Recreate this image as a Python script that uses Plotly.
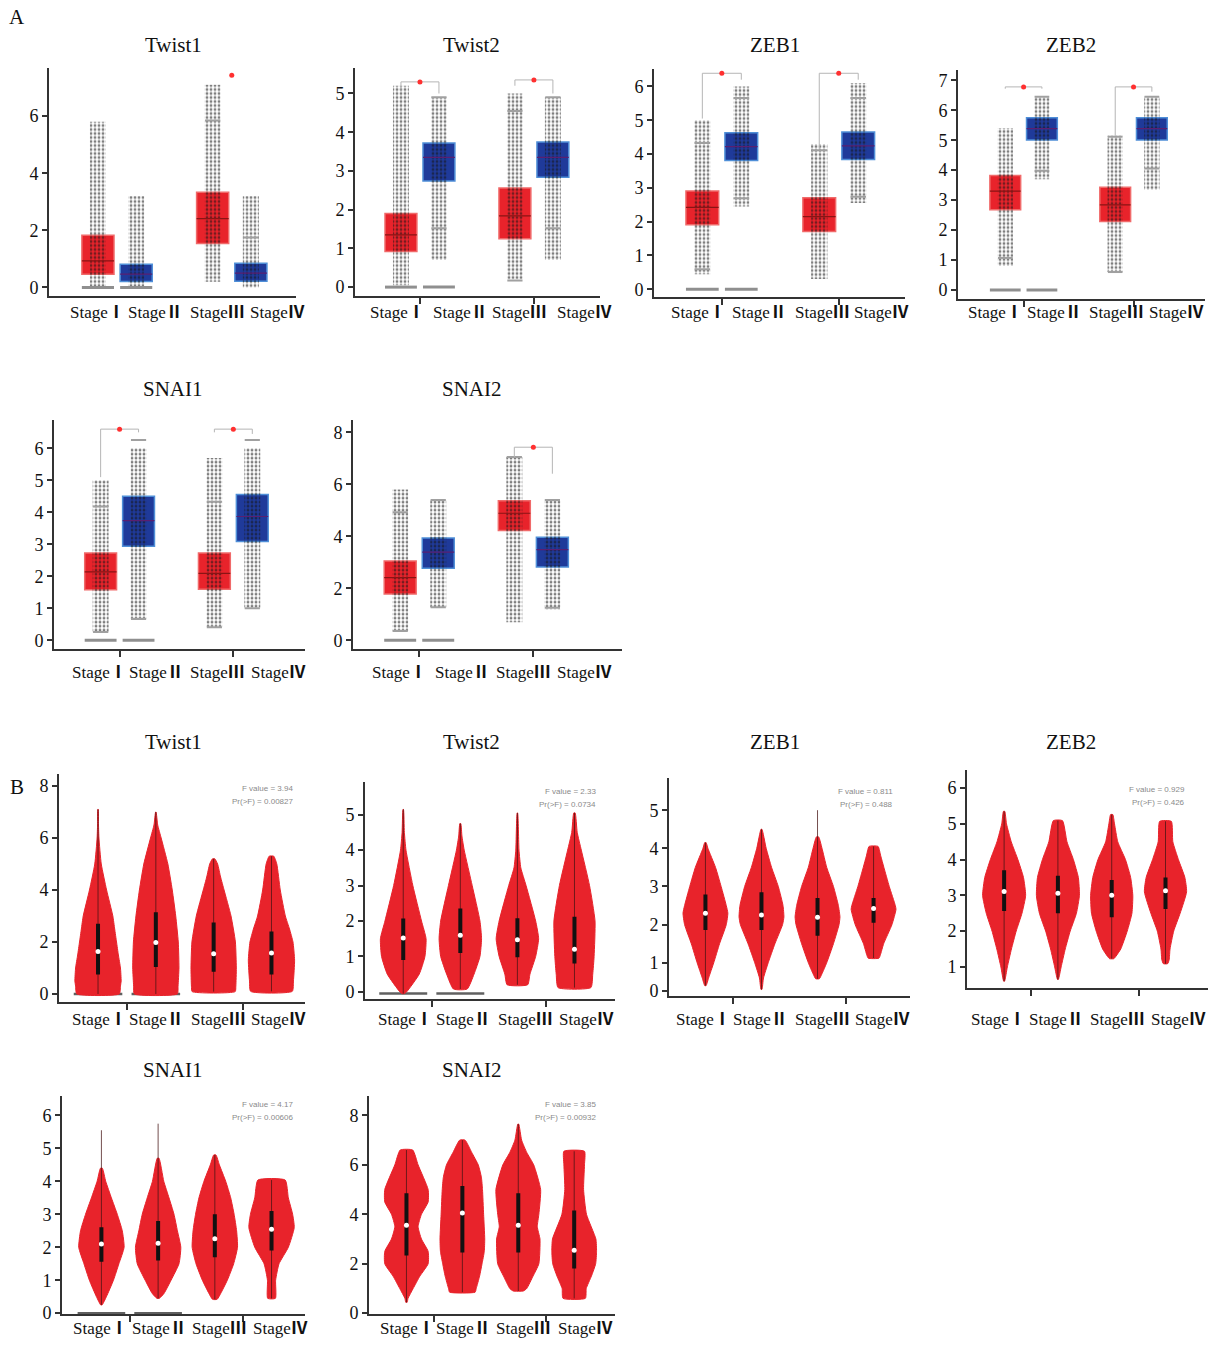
import plotly.graph_objects as go

W, H = 1217, 1350

# ---------------- DATA ----------------
GENES = ["Twist1", "Twist2", "ZEB1", "ZEB2", "SNAI1", "SNAI2"]
STAGES = ["Stage<b>Ⅰ</b>", "Stage<b>Ⅱ</b>", "Stage<b>Ⅲ</b>", "Stage<b>Ⅳ</b>"]

# Panel A: box plots (Stage I..IV); quartiles
A_Q1 = {"Twist1": [0.46, 0.21, 1.54, 0.22], "Twist2": [0.92, 2.74, 1.25, 2.84],
        "ZEB1": [1.91, 3.81, 1.71, 3.84], "ZEB2": [2.68, 5.01, 2.29, 5.01],
        "SNAI1": [1.58, 2.94, 1.60, 3.09], "SNAI2": [1.78, 2.77, 4.23, 2.82]}
A_MED = {"Twist1": [0.93, 0.47, 2.41, 0.50], "Twist2": [1.35, 3.35, 1.84, 3.35],
         "ZEB1": [2.42, 4.22, 2.15, 4.24], "ZEB2": [3.30, 5.39, 2.84, 5.39],
         "SNAI1": [2.14, 3.74, 2.09, 3.87], "SNAI2": [2.41, 3.39, 4.89, 3.49]}
A_Q3 = {"Twist1": [1.83, 0.81, 3.33, 0.85], "Twist2": [1.90, 3.72, 2.56, 3.75],
        "ZEB1": [2.91, 4.63, 2.71, 4.65], "ZEB2": [3.82, 5.75, 3.43, 5.75],
        "SNAI1": [2.73, 4.50, 2.73, 4.56], "SNAI2": [3.05, 3.94, 5.37, 3.97]}
# extent of the jittered sample points
A_PTS_LO = {"Twist1": [0.0, 0.0, 0.2, 0.0], "Twist2": [0.05, 0.7, 0.2, 0.7],
            "ZEB1": [0.44, 2.45, 0.3, 2.55], "ZEB2": [0.8, 3.7, 0.6, 3.35],
            "SNAI1": [0.25, 0.65, 0.4, 1.0], "SNAI2": [0.35, 1.25, 0.7, 1.2]}
A_PTS_HI = {"Twist1": [5.8, 3.2, 7.1, 3.2], "Twist2": [5.2, 4.9, 5.0, 4.9],
            "ZEB1": [5.0, 6.0, 4.3, 6.1], "ZEB2": [5.4, 6.45, 5.15, 6.45],
            "SNAI1": [5.0, 6.0, 5.7, 6.0], "SNAI2": [5.8, 5.4, 7.05, 5.4]}
# whisker caps (stage index, value)
A_CAPS = {"Twist1": [(2, 5.85), (3, 1.75)],
          "Twist2": [(1, 4.9), (1, 1.52), (2, 4.55), (2, 0.17), (3, 4.9), (3, 1.52)],
          "ZEB1": [(0, 4.33), (0, 0.59), (1, 5.66), (1, 2.69), (2, 4.11), (3, 5.66), (3, 2.74)],
          "ZEB2": [(0, 1.07), (1, 6.45), (1, 3.98), (2, 5.12), (2, 0.6), (3, 6.45), (3, 4.06)],
          "SNAI1": [(0, 4.18), (0, 0.26), (1, 6.26), (1, 0.67), (2, 4.33), (2, 0.41), (3, 6.26), (3, 1.0)],
          "SNAI2": [(0, 4.93), (0, 0.36), (1, 5.4), (1, 1.27), (2, 7.05), (3, 5.4), (3, 1.25)]}
A_ZERO = {g: [0, 1] for g in GENES}
# significance brackets (stage i, stage j, top, left end, right end)
A_BRACKETS = {"Twist1": [],
              "Twist2": [(0, 1, 5.3, 5.1, 5.0), (2, 3, 5.35, 5.2, 5.0)],
              "ZEB1": [(0, 1, 6.39, 5.05, 6.2), (2, 3, 6.39, 4.15, 6.2)],
              "ZEB2": [(0, 1, 6.78, 6.72, 6.72), (2, 3, 6.78, 5.15, 6.62)],
              "SNAI1": [(0, 1, 6.6, 5.1, 6.5), (2, 3, 6.6, 6.5, 6.45)],
              "SNAI2": [(2, 3, 7.43, 7.05, 6.41)]}
A_STARS = {"Twist1": [(2, 3, 7.43)]}

# Panel B: violin profiles (value levels and relative half-widths)
B_YS = {
    "Twist1": [[0, 0.3, 0.5, 1, 1.5, 2, 2.5, 3, 4, 5, 6, 6.5, 7.1],
               [0, 0.3, 1, 2, 3, 4, 5, 6, 6.5, 7.0],
               [0.09, 0.3, 1, 2, 3, 4, 4.5, 5, 5.2],
               [0.1, 0.5, 1.3, 2, 2.5, 3, 4, 5, 5.3]],
    "Twist2": [[-0.05, 0, 0.5, 1, 1.5, 2, 3, 4, 4.5, 5.15],
               [0.08, 0.5, 1, 1.5, 2, 3, 4, 4.4, 4.75],
               [0.2, 0.5, 1, 1.5, 2, 3, 3.5, 4, 5.05],
               [0.12, 0.5, 1, 2, 3, 4, 4.5, 5.05]],
    "ZEB1": [[0.4, 0.6, 1, 1.5, 2, 2.3, 2.5, 3, 3.5, 4, 4.15],
             [0.3, 0.6, 1, 1.5, 2, 2.2, 2.5, 3, 3.5, 4, 4.5],
             [0.58, 0.7, 1, 1.5, 2, 2.2, 2.5, 3, 3.5, 4, 4.3],
             [1.12, 1.2, 1.5, 2, 2.4, 2.5, 3, 3.5, 3.8, 4.05]],
    "ZEB2": [[0.6, 1, 1.5, 2, 2.5, 3, 3.5, 4, 4.5, 5, 5.35],
             [0.65, 1, 1.5, 2, 2.5, 3, 3.5, 4, 4.5, 5.09],
             [1.23, 1.3, 1.5, 2, 2.5, 3, 3.5, 4, 4.5, 5, 5.26],
             [1.09, 1.2, 1.5, 2, 2.5, 3.1, 3.5, 4, 4.5, 5.07]],
    "SNAI1": [[0.25, 0.5, 1, 1.5, 2, 2.5, 3, 3.5, 4, 4.4],
              [0.45, 0.6, 1, 1.5, 2, 2.5, 3, 3.5, 4, 4.7],
              [0.42, 0.6, 1, 1.5, 2, 2.5, 3, 3.5, 4, 4.5, 4.8],
              [0.45, 1, 1.5, 2, 2.6, 3, 3.5, 4.04]],
    "SNAI2": [[0.44, 0.6, 1, 1.5, 2, 2.5, 3, 3.5, 4, 4.5, 5, 6, 6.6],
              [0.85, 1, 1.5, 2, 2.5, 3, 4, 5, 5.5, 6, 6.5, 7.0],
              [0.9, 1, 1.5, 2, 3, 3.5, 4, 5, 6, 6.5, 7, 7.65],
              [0.6, 1, 1.5, 2, 2.5, 3, 4, 5, 6, 6.55]],
}
B_WS = {
    "Twist1": [[0.92, 0.97, 1.0, 0.97, 0.88, 0.8, 0.72, 0.64, 0.37, 0.14, 0.04, 0.02, 0.01],
               [0.93, 0.96, 1.0, 0.97, 0.86, 0.71, 0.52, 0.23, 0.08, 0.01],
               [0.93, 0.96, 0.98, 0.94, 0.75, 0.45, 0.3, 0.17, 0.05],
               [0.9, 0.95, 1.0, 0.93, 0.78, 0.6, 0.38, 0.23, 0.1]],
    "Twist2": [[0.05, 0.15, 0.7, 0.95, 1.0, 0.8, 0.42, 0.12, 0.05, 0.01],
               [0.3, 0.6, 0.86, 0.93, 0.86, 0.52, 0.17, 0.07, 0.02],
               [0.45, 0.55, 0.8, 0.93, 0.8, 0.38, 0.15, 0.07, 0.01],
               [0.72, 0.8, 0.86, 0.9, 0.66, 0.3, 0.12, 0.03]],
    "ZEB1": [[0.03, 0.14, 0.37, 0.63, 0.93, 1.0, 0.93, 0.7, 0.45, 0.11, 0.03],
             [0.02, 0.09, 0.3, 0.6, 0.94, 1.0, 0.96, 0.75, 0.45, 0.21, 0.02],
             [0.08, 0.19, 0.41, 0.71, 0.96, 1.0, 0.93, 0.71, 0.41, 0.2, 0.05],
             [0.24, 0.3, 0.45, 0.82, 1.0, 0.97, 0.7, 0.46, 0.32, 0.2]],
    "ZEB2": [[0.02, 0.15, 0.34, 0.56, 0.83, 1.0, 0.9, 0.64, 0.33, 0.11, 0.03],
             [0.02, 0.15, 0.34, 0.57, 0.86, 1.0, 0.95, 0.72, 0.42, 0.21],
             [0.1, 0.2, 0.42, 0.72, 0.94, 0.98, 0.88, 0.64, 0.28, 0.13, 0.05],
             [0.1, 0.17, 0.21, 0.38, 0.68, 0.98, 0.9, 0.6, 0.34, 0.27]],
    "SNAI1": [[0.03, 0.22, 0.53, 0.77, 1.0, 0.92, 0.7, 0.44, 0.19, 0.04],
              [0.05, 0.26, 0.57, 0.92, 1.0, 0.85, 0.7, 0.48, 0.25, 0.04],
              [0.1, 0.26, 0.55, 0.83, 1.0, 0.96, 0.85, 0.7, 0.48, 0.2, 0.05],
              [0.17, 0.18, 0.33, 0.74, 1.0, 0.93, 0.74, 0.6]],
    "SNAI2": [[0.03, 0.07, 0.3, 0.6, 0.97, 0.97, 0.67, 0.52, 0.67, 0.97, 0.97, 0.52, 0.28],
              [0.57, 0.62, 0.77, 0.88, 0.98, 1.0, 0.95, 0.9, 0.85, 0.71, 0.42, 0.12],
              [0.23, 0.38, 0.66, 0.92, 0.97, 0.85, 0.92, 1.0, 0.69, 0.38, 0.15, 0.02],
              [0.5, 0.54, 0.77, 0.96, 1.0, 0.97, 0.55, 0.42, 0.46, 0.46]],
}
B_MED = {"Twist1": [1.63, 1.98, 1.55, 1.58], "Twist2": [1.52, 1.6, 1.47, 1.2],
         "ZEB1": [2.3, 2.25, 2.19, 2.42], "ZEB2": [3.11, 3.06, 3.0, 3.13],
         "SNAI1": [2.1, 2.12, 2.26, 2.55], "SNAI2": [3.56, 4.05, 3.56, 2.55]}
B_Q1 = {"Twist1": [0.75, 1.04, 0.85, 0.75], "Twist2": [0.9, 1.1, 0.98, 0.8],
        "ZEB1": [1.86, 1.86, 1.71, 2.05], "ZEB2": [2.56, 2.5, 2.39, 2.62],
        "SNAI1": [1.56, 1.6, 1.7, 1.9], "SNAI2": [2.33, 2.46, 2.46, 1.81]}
B_Q3 = {"Twist1": [2.7, 3.14, 2.75, 2.4], "Twist2": [2.07, 2.35, 2.08, 2.12],
        "ZEB1": [2.79, 2.85, 2.7, 2.7], "ZEB2": [3.7, 3.55, 3.43, 3.5],
        "SNAI1": [2.61, 2.8, 3.0, 3.1], "SNAI2": [4.85, 5.15, 4.85, 4.15]}
B_MAX = {"Twist1": [7.1, 7.0, 5.2, 5.3], "Twist2": [5.15, 4.75, 5.05, 5.05],
         "ZEB1": [4.15, 4.5, 5.0, 4.05], "ZEB2": [5.35, 5.09, 5.26, 5.07],
         "SNAI1": [5.55, 5.75, 4.8, 4.04], "SNAI2": [6.6, 7.0, 7.65, 6.55]}
B_ZERO = {"Twist1": ([0, 1], 0.0), "Twist2": ([0, 1], -0.05), "ZEB1": ([], 0),
          "ZEB2": ([], 0), "SNAI1": ([0, 1], 0.0), "SNAI2": ([], 0)}
B_FVAL = {"Twist1": ("3.94", "0.00827"), "Twist2": ("2.33", "0.0734"),
          "ZEB1": ("0.811", "0.488"), "ZEB2": ("0.929", "0.426"),
          "SNAI1": ("4.17", "0.00606"), "SNAI2": ("3.85", "0.00932")}

# ---------------- LAYOUT (pixel geometry) ----------------
POS_A = [0, 1, 3, 4]
POS_B = [1, 2, 3, 4]
A_PANELS = [
    ("Twist1", (49, 296, 68, 298), (-1.28, 5.18), (-0.30, 7.70), [0, 2, 4, 6], None, (173, 45), [97, 155, 217, 277], 315, []),
    ("Twist2", (355, 600, 68, 298), (-1.21, 5.24), (-0.23, 5.67), [0, 1, 2, 3, 4, 5], None, (471, 45), [397, 460, 519, 584], 315, [0.5, 3.5]),
    ("ZEB1", (654, 905, 69, 299), (-1.24, 5.20), (-0.23, 6.53), [0, 1, 2, 3, 4, 5, 6], None, (775, 45), [698, 759, 822, 881], 315, [0.5, 3.5]),
    ("ZEB2", (958, 1205, 70, 301), (-1.29, 5.45), (-0.30, 7.36), [0, 1, 2, 3, 4, 5, 6, 7], None, (1071, 45), [995, 1054, 1116, 1176], 315, [0.5, 3.5]),
    ("SNAI1", (54, 305, 423, 653), (-1.23, 5.39), (-0.26, 6.88), [0, 1, 2, 3, 4, 5, 6], None, (173, 392), [99, 156, 217, 278], 677, [0.5, 3.5]),
    ("SNAI2", (353, 622, 423, 653), (-1.24, 5.83), (-0.32, 8.47), [0, 2, 4, 6, 8], None, (472, 392), [399, 462, 523, 584], 677, [0.5, 3.5]),
]
B_PANELS = [
    ("Twist1", (59, 305, 779, 1009), (0.325, 4.58), (-0.32, 8.47), [0, 2, 4, 6, 8], None, (173, 747), [99, 156, 218, 278], 1026, [1.5, 3.5], (295, 794)),
    ("Twist2", (365, 615, 787, 1006), (0.33, 4.71), (-0.21, 5.93), [0, 1, 2, 3, 4, 5], None, (471, 747), [405, 464, 525, 586], 1026, [1.5, 3.5], (598, 797)),
    ("ZEB1", (669, 910, 783, 1003), (0.35, 4.65), (0.12, 5.85), [0.26, 1, 2, 3, 4, 5], ["0", "1", "2", "3", "4", "5"], (775, 747), [703, 761, 822, 882], 1026, [1.5, 3.5], (895, 797)),
    ("ZEB2", (967, 1208, 775, 995), (0.31, 4.79), (0.40, 6.51), [1, 2, 3, 4, 5, 6], None, (1071, 747), [998, 1056, 1117, 1178], 1026, [1.5, 3.5], (1187, 795)),
    ("SNAI1", (62, 305, 1103, 1323), (0.305, 4.59), (-0.03, 6.6), [0, 1, 2, 3, 4, 5, 6], None, (173, 1077), [100, 159, 220, 280], 1337, [1.5, 3.5], (295, 1112)),
    ("SNAI2", (369, 615, 1103, 1323), (0.33, 4.73), (-0.04, 8.8), [0, 2, 4, 6, 8], None, (472, 1077), [407, 464, 523, 585], 1337, [1.5, 3.5], (598, 1112)),
]

RED = "#e8232b"
RED_EDGE = "#f06a6a"
BLUE = "#1f3a9a"
BLUE_EDGE = "#4f8fd8"
SERIF = "Liberation Serif, Noto Sans CJK SC, serif"
SANS = "Liberation Sans, Arial, sans-serif"


def PX(p):
    return p / W


def PY(p):
    return 1 - p / H


fig = go.Figure()
annotations = []
layout_axes = {}


def add_axes(k, box, xr, yr, ytv, ytt, xtv):
    L, R, T, B = box
    xname = "xaxis" if k == 1 else f"xaxis{k}"
    yname = "yaxis" if k == 1 else f"yaxis{k}"
    ax = "x" if k == 1 else f"x{k}"
    ay = "y" if k == 1 else f"y{k}"
    layout_axes[xname] = dict(domain=[PX(L), PX(R)], anchor=ay, range=list(xr),
                              showline=True, linecolor="#333", linewidth=2,
                              showgrid=False, zeroline=False, showticklabels=False,
                              tickvals=xtv, ticks="outside" if xtv else "",
                              ticklen=6, tickwidth=1.5, tickcolor="#333", fixedrange=True)
    yax = dict(domain=[PY(B), PY(T)], anchor=ax, range=list(yr),
               showline=True, linecolor="#333", linewidth=2,
               showgrid=False, zeroline=False, tickvals=ytv,
               ticks="outside", ticklen=5, tickwidth=1.5, tickcolor="#333",
               tickfont=dict(family=SERIF, size=18, color="#111"), fixedrange=True)
    if ytt:
        yax["ticktext"] = ytt
    layout_axes[yname] = yax
    return ax, ay


def title_and_labels(gene, tpos, lxs, ly):
    annotations.append(dict(text=gene, x=PX(tpos[0]), y=PY(tpos[1]), xref="paper", yref="paper",
                            showarrow=False, xanchor="center", yanchor="middle",
                            font=dict(family=SERIF, size=21, color="#111")))
    for s, lx in zip(STAGES, lxs):
        annotations.append(dict(text=s, x=PX(lx), y=PY(ly), xref="paper", yref="paper",
                                showarrow=False, xanchor="center", yanchor="middle",
                                font=dict(family=SERIF, size=17, color="#111")))


k = 0
# ---------- Panel A: box plots ----------
for gene, box, xr, yr, ytv, ytt, tpos, lxs, ly, xtv in A_PANELS:
    k += 1
    ax, ay = add_axes(k, box, xr, yr, ytv, ytt, xtv)
    title_and_labels(gene, tpos, lxs, ly)
    q1, q3, md = A_Q1[gene], A_Q3[gene], A_MED[gene]
    lo, hi = A_PTS_LO[gene], A_PTS_HI[gene]
    zx, zy = [], []
    for i in A_ZERO[gene]:
        zx += [POS_A[i] - 0.42, POS_A[i] + 0.42, None]
        zy += [0, 0, None]
    fig.add_trace(go.Scatter(x=zx, y=zy, mode="lines", line=dict(color="#8f8f8f", width=3),
                             xaxis=ax, yaxis=ay, hoverinfo="skip"))
    fig.add_trace(go.Bar(x=POS_A, base=q1, y=[b - a for a, b in zip(q1, q3)], width=0.84,
                         marker=dict(color=[RED, BLUE, RED, BLUE],
                                     line=dict(color=[RED_EDGE, BLUE_EDGE, RED_EDGE, BLUE_EDGE], width=1.5)),
                         xaxis=ax, yaxis=ay, hoverinfo="skip"))
    # jittered sample cloud
    fig.add_trace(go.Bar(x=POS_A, base=lo, y=[b - a for a, b in zip(lo, hi)], width=0.42,
                         marker=dict(color="rgba(0,0,0,0)", line=dict(width=0),
                                     pattern=dict(shape=".", fgcolor="#151515", fgopacity=0.55,
                                                  size=4, solidity=0.4)),
                         xaxis=ax, yaxis=ay, hoverinfo="skip"))
    cx, cy = [], []
    for i, v in A_CAPS[gene]:
        cx += [POS_A[i] - 0.2, POS_A[i] + 0.2, None]
        cy += [v, v, None]
    fig.add_trace(go.Scatter(x=cx, y=cy, mode="lines", line=dict(color="#a0a0a0", width=2),
                             xaxis=ax, yaxis=ay, hoverinfo="skip"))
    for idxs, col in (([0, 2], "#8a1414"), ([1, 3], "#5a1f70")):
        mx, my = [], []
        for i in idxs:
            mx += [POS_A[i] - 0.42, POS_A[i] + 0.42, None]
            my += [md[i], md[i], None]
        fig.add_trace(go.Scatter(x=mx, y=my, mode="lines", line=dict(color=col, width=1.2),
                                 xaxis=ax, yaxis=ay, hoverinfo="skip"))
    bx, by, sx, sy = [], [], [], []
    for i, j, top, yl, yrr in A_BRACKETS[gene]:
        bx += [POS_A[i], POS_A[i], POS_A[j], POS_A[j], None]
        by += [yl, top, top, yrr, None]
        sx.append((POS_A[i] + POS_A[j]) / 2)
        sy.append(top)
    for i, j, top in A_STARS.get(gene, []):
        sx.append((POS_A[i] + POS_A[j]) / 2)
        sy.append(top)
    if bx:
        fig.add_trace(go.Scatter(x=bx, y=by, mode="lines", line=dict(color="#b5b5b5", width=1),
                                 xaxis=ax, yaxis=ay, hoverinfo="skip"))
    fig.add_trace(go.Scatter(x=sx, y=sy, mode="markers",
                             marker=dict(symbol="circle", size=5, color="#ff3030"),
                             xaxis=ax, yaxis=ay, hoverinfo="skip", cliponaxis=False))

# ---------- Panel B: violin plots ----------
HW = 0.40
for gene, box, xr, yr, ytv, ytt, tpos, lxs, ly, xtv, fpos in B_PANELS:
    k += 1
    ax, ay = add_axes(k, box, xr, yr, ytv, ytt, xtv)
    title_and_labels(gene, tpos, lxs, ly)
    zidx, zval = B_ZERO[gene]
    if zidx:
        zx, zy = [], []
        for i in zidx:
            zx += [POS_B[i] - 0.42, POS_B[i] + 0.42, None]
            zy += [zval, zval, None]
        fig.add_trace(go.Scatter(x=zx, y=zy, mode="lines", line=dict(color="#606060", width=2.5),
                                 xaxis=ax, yaxis=ay, hoverinfo="skip"))
    for i in range(4):
        ys, ws = B_YS[gene][i], B_WS[gene][i]
        c = POS_B[i]
        xs = [c + w * HW for w in ws] + [c - w * HW for w in reversed(ws)]
        yy = list(ys) + list(reversed(ys))
        fig.add_trace(go.Scatter(x=xs + [xs[0]], y=yy + [yy[0]], mode="lines", fill="toself",
                                 fillcolor=RED, line=dict(color=RED, width=1, shape="spline", smoothing=0.5),
                                 xaxis=ax, yaxis=ay, hoverinfo="skip"))
    wx, wy, bxx, byy = [], [], [], []
    for i in range(4):
        c = POS_B[i]
        wx += [c, c, None]
        wy += [B_YS[gene][i][0], B_MAX[gene][i], None]
        bxx += [c, c, None]
        byy += [B_Q1[gene][i], B_Q3[gene][i], None]
    fig.add_trace(go.Scatter(x=wx, y=wy, mode="lines", line=dict(color="rgba(70,20,20,0.75)", width=1),
                             xaxis=ax, yaxis=ay, hoverinfo="skip"))
    fig.add_trace(go.Scatter(x=bxx, y=byy, mode="lines", line=dict(color="#111", width=4),
                             xaxis=ax, yaxis=ay, hoverinfo="skip"))
    fig.add_trace(go.Scatter(x=POS_B, y=B_MED[gene], mode="markers",
                             marker=dict(symbol="circle", size=5, color="white"),
                             xaxis=ax, yaxis=ay, hoverinfo="skip"))
    fv, pv = B_FVAL[gene]
    annotations.append(dict(text=f"F value = {fv}", x=PX(fpos[0]), y=PY(fpos[1]), xref="paper", yref="paper",
                            showarrow=False, xanchor="right", yanchor="middle",
                            font=dict(family=SANS, size=8, color="#8a8a8a")))
    annotations.append(dict(text=f"Pr(>F) = {pv}", x=PX(fpos[0]), y=PY(fpos[1] + 13), xref="paper", yref="paper",
                            showarrow=False, xanchor="right", yanchor="middle",
                            font=dict(family=SANS, size=8, color="#8a8a8a")))

for letter, (lx, lyy) in (("A", (17, 17)), ("B", (17, 792))):
    annotations.append(dict(text=letter, x=PX(lx), y=PY(lyy), xref="paper", yref="paper",
                            showarrow=False, xanchor="center", yanchor="middle",
                            font=dict(family=SERIF, size=21, color="#111")))

fig.update_layout(width=W, height=H, autosize=False, margin=dict(l=0, r=0, t=0, b=0),
                  paper_bgcolor="white", plot_bgcolor="white", showlegend=False,
                  barmode="overlay", hovermode=False, annotations=annotations, **layout_axes)

fig.write_html("out.html", config={"displayModeBar": False},
               post_script="document.body.style.margin='0px';document.body.style.padding='0px';")
